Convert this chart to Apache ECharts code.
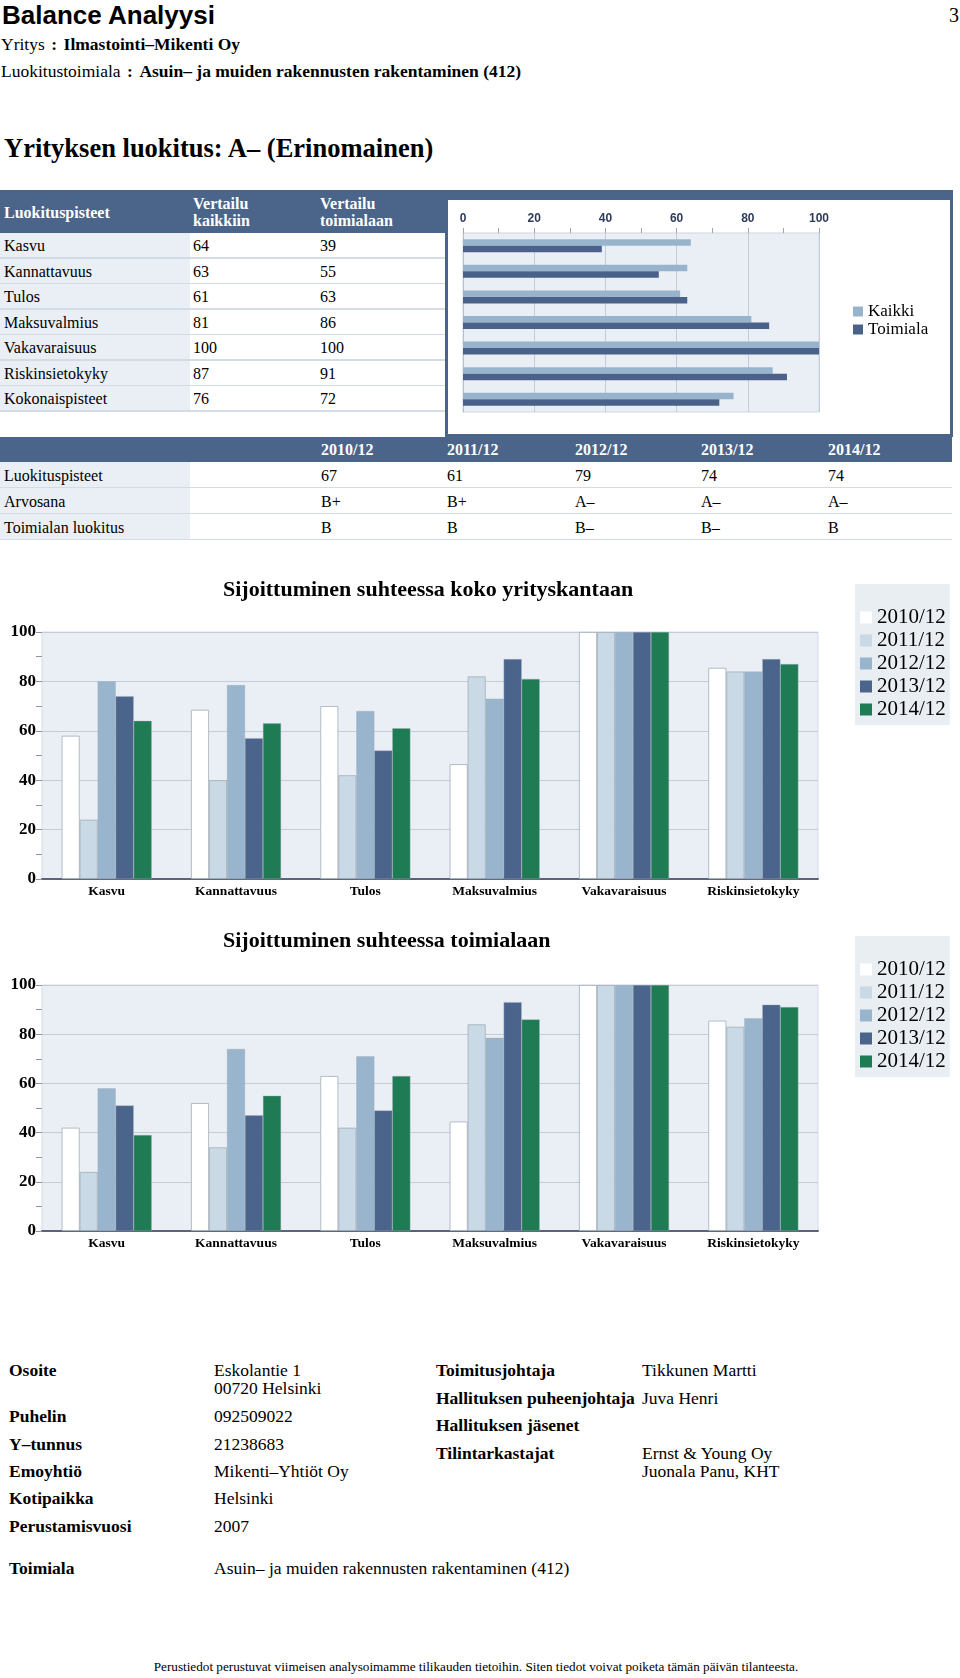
<!DOCTYPE html>
<html><head><meta charset="utf-8">
<script src="https://cdn.jsdelivr.net/npm/echarts@6/dist/echarts.min.js"></script>
<style>
html,body{margin:0;padding:0;background:#fff;}
body{width:960px;height:1678px;position:relative;overflow:hidden;font-family:'Liberation Serif','Times New Roman',serif;color:#000;}
.t{position:absolute;white-space:nowrap;}
.r{position:absolute;}
.c{display:inline-block;margin:0 6.5px;font-weight:bold;}
#chart{position:absolute;left:0;top:0;width:960px;height:1678px;z-index:2;}
#page{position:absolute;left:0;top:0;width:960px;height:1678px;z-index:1;}
</style></head><body>
<div id="page"></div>
<div id="chart"></div>
<script>
// ---------- DATA ----------
const scoreCategories = ['Kasvu','Kannattavuus','Tulos','Maksuvalmius','Vakavaraisuus','Riskinsietokyky','Kokonaispisteet'];
const kaikki = [64, 63, 61, 81, 100, 87, 76];
const toimiala = [39, 55, 63, 86, 100, 91, 72];

const years = ['2010/12','2011/12','2012/12','2013/12','2014/12'];
const luokituspisteet = [67, 61, 79, 74, 74];
const arvosana = ['B+','B+','A–','A–','A–'];
const toimialanLuokitus = ['B','B','B–','B–','B'];

const posCategories = ['Kasvu','Kannattavuus','Tulos','Maksuvalmius','Vakavaraisuus','Riskinsietokyky'];
const koko2010 = [58, 68.5, 70, 46.5, 100, 85.5];
const koko2011 = [24, 40, 42, 82, 100, 84];
const koko2012 = [80, 78.5, 68, 73, 100, 84];
const koko2013 = [74, 57, 52, 89, 100, 89];
const koko2014 = [64, 63, 61, 81, 100, 87];
const toim2010 = [42, 52, 63, 44.5, 100, 85.5];
const toim2011 = [24, 34, 42, 84, 100, 83];
const toim2012 = [58, 74, 71, 78.5, 100, 86.5];
const toim2013 = [51, 47, 49, 93, 100, 92];
const toim2014 = [39, 55, 63, 86, 100, 91];

// ---------- STYLE ----------
const serif = "'Liberation Serif','Times New Roman',serif";
const sans = "'Liberation Sans',Arial,sans-serif";
const navy = '#4b6489';
const lightRow = '#e9eff5';
const sep = '#d3dbe5';
const yearColors = ['#ffffff','#c9d9e5','#98b5cd','#4b648c','#1e7b54'];

const page = document.getElementById('page');
function rect(x,y,w,h,bg){const d=document.createElement('div');d.className='r';d.style.cssText=`left:${x}px;top:${y}px;width:${w}px;height:${h}px;background:${bg};`;page.appendChild(d);}
function txt(x,yc,html,size,extra){const lh=Math.round(size*1.2);const d=document.createElement('div');d.className='t';d.style.cssText=`left:${x}px;top:${yc-lh/2}px;font-size:${size}px;line-height:${lh}px;${extra||''}`;d.innerHTML=html;page.appendChild(d);return d;}

// header
txt(2,15,'Balance Analyysi',26,`font-family:${sans};font-weight:bold;`);
txt(949,15,'3',20);
txt(1,44,'Yritys<span class="c">:</span><b>Ilmastointi–Mikenti Oy</b>',17.5);
txt(1,71,'Luokitustoimiala<span class="c">:</span><b>Asuin– ja muiden rakennusten rakentaminen (412)</b>',17.5);
txt(4,148,'Yrityksen luokitus: A– (Erinomainen)',26.5,'font-weight:bold;');

// table 1
rect(0,190,446,43,navy);
rect(445,190,508,247,navy);
rect(448,200,502,234,'#fff');
txt(4,212,'Luokituspisteet',16,'font-weight:bold;color:#fff;');
txt(193,203,'Vertailu',16,'font-weight:bold;color:#fff;');
txt(193,220,'kaikkiin',16,'font-weight:bold;color:#fff;');
txt(320,203,'Vertailu',16,'font-weight:bold;color:#fff;');
txt(320,220,'toimialaan',16,'font-weight:bold;color:#fff;');
scoreCategories.forEach((c,i)=>{
  const y0=233+i*25.5;
  rect(0,y0,190,25.5,lightRow);
  rect(0,y0+24,445,1.5,sep);
  txt(4,y0+12.5,c,16);
  txt(193,y0+12.5,String(kaikki[i]),16);
  txt(320,y0+12.5,String(toimiala[i]),16);
});

// table 2
rect(0,437,952,25,navy);
const colX=[321,447,575,701,828];
years.forEach((y,i)=>txt(colX[i],449.5,y,16,'font-weight:bold;color:#fff;'));
const t2rows=[['Luokituspisteet',luokituspisteet],['Arvosana',arvosana],['Toimialan luokitus',toimialanLuokitus]];
t2rows.forEach((r,i)=>{
  const y0=462+i*26;
  rect(0,y0,190,26,lightRow);
  rect(0,y0+24.5,952,1.5,sep);
  txt(4,y0+13,r[0],16);
  r[1].forEach((v,j)=>txt(colX[j],y0+13,String(v),16));
});

// footer info
const infoL=[['Osoite',1370,'Eskolantie 1'],['Puhelin',1416,'092509022'],['Y–tunnus',1444,'21238683'],['Emoyhtiö',1471,'Mikenti–Yhtiöt Oy'],['Kotipaikka',1498,'Helsinki'],['Perustamisvuosi',1526,'2007'],['Toimiala',1568,'Asuin– ja muiden rakennusten rakentaminen (412)']];
infoL.forEach(r=>{txt(9,r[1],r[0],17.5,'font-weight:bold;');txt(214,r[1],r[2],17.5);});
txt(214,1388,'00720 Helsinki',17.5);
const infoR=[['Toimitusjohtaja',1370,'Tikkunen Martti'],['Hallituksen puheenjohtaja',1398,'Juva Henri'],['Hallituksen jäsenet',1425,''],['Tilintarkastajat',1453,'Ernst &amp; Young Oy']];
infoR.forEach(r=>{txt(436,r[1],r[0],17.5,'font-weight:bold;');if(r[2])txt(642,r[1],r[2],17.5);});
txt(642,1471,'Juonala Panu, KHT',17.5);
const note=txt(0,1667,'Perustiedot perustuvat viimeisen analysoimamme tilikauden tietoihin. Siten tiedot voivat poiketa tämän päivän tilanteesta.',13.2);
note.style.width='952px';note.style.textAlign='center';

// ---------- CHART ----------
const chart = echarts.init(document.getElementById('chart'), null, {renderer:'canvas'});
const koko=[koko2010,koko2011,koko2012,koko2013,koko2014];
const toim=[toim2010,toim2011,toim2012,toim2013,toim2014];

function colXAxis(gi){return {gridIndex:gi,type:'category',data:posCategories,
  axisLine:{lineStyle:{color:'#5a6478',width:2}},
  axisTick:{alignWithLabel:true,inside:true,length:5,lineStyle:{color:'#7d8796'}},
  axisLabel:{fontFamily:serif,fontWeight:'bold',fontSize:13.5,color:'#000',margin:6}};}
function colYAxis(gi){return {gridIndex:gi,type:'value',min:0,max:100,interval:20,
  axisLine:{show:false},
  axisTick:{show:true,length:6,lineStyle:{color:'#8a94a3'}},
  minorTick:{show:true,splitNumber:2,length:6,lineStyle:{color:'#8a94a3'}},
  splitLine:{lineStyle:{color:'#c3ccd7'}},
  axisLabel:{fontFamily:serif,fontWeight:'bold',fontSize:17,color:'#000',margin:6}};}
function yearLegend(top){return {data:years,left:855,top:top,orient:'vertical',backgroundColor:'#e9eef3',
  padding:[23,4,5,5],itemWidth:12,itemHeight:12,itemGap:2,icon:'rect',selectedMode:false,
  itemStyle:{borderWidth:0},
  textStyle:{fontFamily:serif,fontSize:21,color:'#000',lineHeight:20}};}

const series=[
  {type:'bar',name:'Kaikki',xAxisIndex:0,yAxisIndex:0,data:kaikki,barWidth:6.5,barGap:'0%',itemStyle:{color:'#98b4cc'}},
  {type:'bar',name:'Toimiala',xAxisIndex:0,yAxisIndex:0,data:toimiala,barWidth:6.5,barGap:'0%',itemStyle:{color:'#4a6289'}}
];
years.forEach((y,i)=>series.push({type:'bar',name:y,xAxisIndex:1,yAxisIndex:1,data:koko[i],barWidth:18,barGap:'0%',
  itemStyle:{color:yearColors[i],borderColor:'#a3adb9',borderWidth:i<2?0.8:0.4}}));
years.forEach((y,i)=>series.push({type:'bar',name:y,xAxisIndex:2,yAxisIndex:2,data:toim[i],barWidth:18,barGap:'0%',
  itemStyle:{color:yearColors[i],borderColor:'#a3adb9',borderWidth:i<2?0.8:0.4}}));

chart.setOption({
  animation:false,
  title:[
    {text:'Sijoittuminen suhteessa koko yrityskantaan',left:223,top:579,padding:0,textStyle:{fontFamily:serif,fontSize:22,fontWeight:'bold',color:'#000'}},
    {text:'Sijoittuminen suhteessa toimialaan',left:223,top:930,padding:0,textStyle:{fontFamily:serif,fontSize:22,fontWeight:'bold',color:'#000'}}
  ],
  legend:[
    {data:['Kaikki','Toimiala'],left:853,top:303,orient:'vertical',itemWidth:10,itemHeight:10,itemGap:1,icon:'rect',selectedMode:false,padding:0,
      itemStyle:{borderWidth:0},
      textStyle:{fontFamily:serif,fontSize:17,color:'#000'}},
    yearLegend(584),
    yearLegend(936)
  ],
  grid:[
    {left:463,top:233,width:356,height:179,show:true,backgroundColor:'#eaeff5',borderColor:'#cfd6df',borderWidth:1},
    {left:42,top:632,width:776,height:247,show:true,backgroundColor:'#eaeff5',borderColor:'#d6dce4',borderWidth:1},
    {left:42,top:985,width:776,height:246,show:true,backgroundColor:'#eaeff5',borderColor:'#d6dce4',borderWidth:1}
  ],
  xAxis:[
    {gridIndex:0,type:'value',position:'top',min:0,max:100,interval:20,
      axisLine:{show:false},
      axisTick:{show:true,length:5,lineStyle:{color:'#9aa5b3'}},
      minorTick:{show:true,splitNumber:2,length:5,lineStyle:{color:'#9aa5b3'}},
      axisLabel:{margin:8,fontFamily:sans,fontWeight:'bold',fontSize:12,color:'#2f3b5c'},
      splitLine:{show:true,lineStyle:{color:'#c3ccd7'}}},
    colXAxis(1), colXAxis(2)
  ],
  yAxis:[
    {gridIndex:0,type:'category',inverse:true,data:scoreCategories,
      axisLabel:{show:false},
      axisLine:{lineStyle:{color:'#b8c1cd'}},
      axisTick:{alignWithLabel:true,length:5,lineStyle:{color:'#9aa5b3'}}},
    colYAxis(1), colYAxis(2)
  ],
  series:series
});
</script>
</body></html>
